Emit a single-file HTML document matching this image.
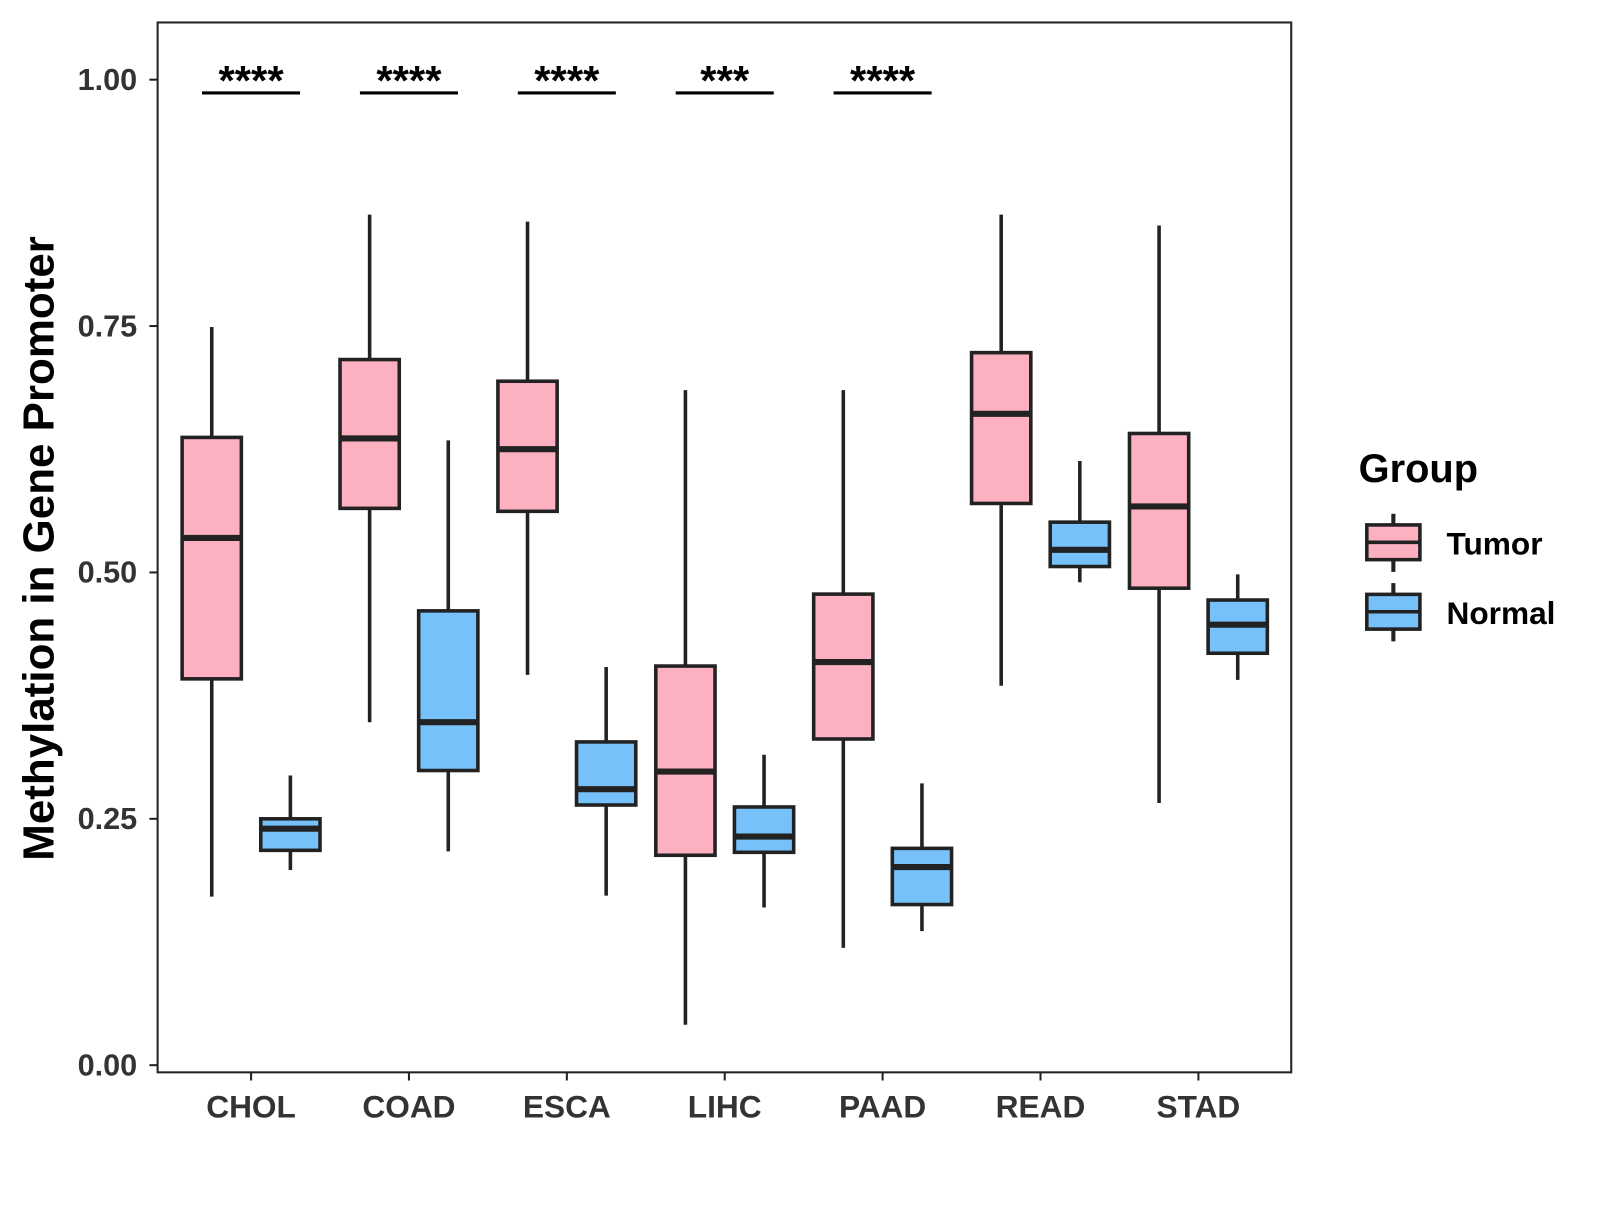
<!DOCTYPE html>
<html><head><meta charset="utf-8"><style>
body{margin:0;background:#fff}
svg text{font-family:"Liberation Sans",Arial,sans-serif;font-weight:bold}
</style></head><body>
<svg id="chart" width="1600" height="1200" viewBox="0 0 1566 1175" xmlns="http://www.w3.org/2000/svg">
<rect width="1566" height="1175" fill="#fff"/>
<rect x="154" y="22" width="1110" height="1028" fill="none" stroke="#222" stroke-width="2"/>
<g id="marks"></g>
<text transform="translate(52,537) rotate(-90)" text-anchor="middle" font-size="43" fill="#000">Methylation in Gene Promoter</text>
<g>
<text x="1330" y="472" font-size="39" fill="#000">Group</text>
<line x1="1364" y1="503" x2="1364" y2="560" stroke="#222" stroke-width="4"/>
<rect x="1338" y="514" width="52" height="34" fill="#FDB0C0" stroke="#222" stroke-width="3.5"/>
<line x1="1338" y1="531" x2="1390" y2="531" stroke="#222" stroke-width="3.5"/>
<text x="1416" y="543" font-size="31" fill="#000">Tumor</text>
<line x1="1364" y1="571" x2="1364" y2="628" stroke="#222" stroke-width="4"/>
<rect x="1338" y="582" width="52" height="34" fill="#76C1FA" stroke="#222" stroke-width="3.5"/>
<line x1="1338" y1="599" x2="1390" y2="599" stroke="#222" stroke-width="3.5"/>
<text x="1416" y="611" font-size="31" fill="#000">Normal</text>
</g>
</svg>
<script>
const categories=["CHOL","COAD","ESCA","LIHC","PAAD","READ","STAD"];
// [lower whisker, Q1, median, Q3, upper whisker]
const tumor=[[0.171,0.392,0.535,0.637,0.749],[0.348,0.565,0.636,0.716,0.863],[0.396,0.562,0.625,0.694,0.856],[0.041,0.213,0.298,0.405,0.685],[0.119,0.331,0.409,0.478,0.685],[0.385,0.570,0.661,0.723,0.863],[0.266,0.484,0.567,0.641,0.852]];
const normal=[[0.198,0.218,0.240,0.250,0.294],[0.217,0.299,0.348,0.461,0.634],[0.172,0.264,0.280,0.328,0.404],[0.160,0.216,0.232,0.262,0.315],[0.136,0.163,0.201,0.220,0.286],[0.490,0.506,0.523,0.551,0.613],[0.391,0.418,0.447,0.472,0.498]];
const signif=["****","****","****","***","****","",""];
const yTicks=[0,0.25,0.5,0.75,1.0];
const yTickLabels=["0.00","0.25","0.50","0.75","1.00"];
const NS="http://www.w3.org/2000/svg";
const y=v=>1043-v*965;
const x=i=>245.5+i*154.6;
const g=document.getElementById('marks');
function mk(t,a){const e=document.createElementNS(NS,t);for(const k in a)e.setAttribute(k,a[k]);g.appendChild(e);return e;}
yTicks.forEach((t,i)=>{
 const l=mk('line',{x1:146,x2:154,y1:y(t),y2:y(t),stroke:'#222','stroke-width':2});
 
 
 const tx=mk('text',{x:134,y:y(t)+10,'text-anchor':'end','font-size':30,fill:'#333'});
 tx.textContent=yTickLabels[i];
 
 
});
function box(cx,d,fill,name){
 const w=29;
 const wh=mk('line',{x1:cx,x2:cx,y1:y(d[0]),y2:y(d[4]),stroke:'#222','stroke-width':3.5});
 
 
 const r=mk('rect',{x:cx-w,y:y(d[3]),width:2*w,height:y(d[1])-y(d[3]),fill:fill,stroke:'#222','stroke-width':3.5});
 
 
 const m=mk('line',{x1:cx-w,x2:cx+w,y1:y(d[2]),y2:y(d[2]),stroke:'#222','stroke-width':6});
 
 
}
categories.forEach((c,i)=>{
 const cx=x(i);
 const tk=mk('line',{x1:cx,x2:cx,y1:1050,y2:1058,stroke:'#222','stroke-width':2});
 
 
 const t=mk('text',{x:cx,y:1094,'text-anchor':'middle','font-size':31,fill:'#333'});
 t.textContent=c;
 
 
 box(cx-38.5,tumor[i],'#FDB0C0','tumor-'+c.toLowerCase());
 box(cx+38.5,normal[i],'#76C1FA','normal-'+c.toLowerCase());
 if(signif[i]){
  const b=mk('line',{x1:cx-48,x2:cx+48,y1:91,y2:91,stroke:'#000','stroke-width':3});
  
  
  const s=mk('text',{x:cx,y:93,'text-anchor':'middle','font-size':41,fill:'#000'});
  s.textContent=signif[i];
  
  
 }
});
</script>
</body></html>
